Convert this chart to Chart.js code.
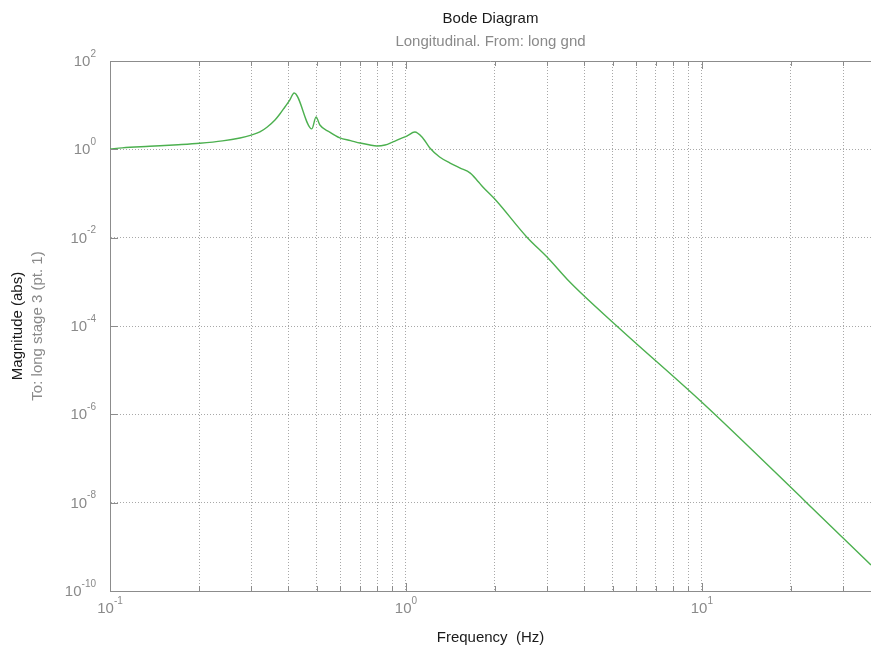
<!DOCTYPE html>
<html>
<head>
<meta charset="utf-8">
<script src="https://cdn.jsdelivr.net/npm/chart.js@4.4.1/dist/chart.umd.min.js"></script>
<style>
  html, body { margin: 0; padding: 0; background: #fff; }
  canvas { display: block; }
</style>
</head>
<body>
<canvas id="c" width="871" height="650"></canvas>
<script>
// ---- data ----
const freqHz = [0.1, 0.11, 0.136, 0.17, 0.201, 0.24, 0.275, 0.30, 0.321, 0.34, 0.361, 0.375, 0.39, 0.405, 0.419,
  0.481, 0.497, 0.512, 0.55, 0.598, 0.65, 0.70, 0.75, 0.798, 0.85, 0.904, 0.95, 1.007, 1.072, 1.14, 1.205,
  1.30, 1.41, 1.52, 1.65, 1.75, 1.82, 2.01, 2.56, 3.02, 3.58, 5.16, 10.07, 22.6, 37.3];
const magnitudeAbs = [1.02, 1.08, 1.17, 1.27, 1.37, 1.55, 1.81, 2.1, 2.47, 3.2, 4.6, 6.3, 9.1, 13, 18.9,
  2.9, 5.4, 3.56, 2.5, 1.81, 1.58, 1.39, 1.27, 1.19, 1.25, 1.47, 1.7, 2.0, 2.47, 1.81, 1.07,
  0.67, 0.49, 0.38, 0.29, 0.19, 0.14, 0.0713, 0.0104, 0.00347, 9.9e-4, 1e-4, 1.8e-6, 1e-8, 3.9e-10];
const xTickValues = [0.1,0.2,0.3,0.4,0.5,0.6,0.7,0.8,0.9,1,2,3,4,5,6,7,8,9,10,20,30];
const xTickLabels = [{v:0.1, exp:'-1'}, {v:1, exp:'0'}, {v:10, exp:'1'}];
const yTickValues = [1e-10,1e-8,1e-6,1e-4,1e-2,1,1e2];
const yTickExps = ['-10','-8','-6','-4','-2','0','2'];
const xMin = 0.1, xMax = 37.3, yMin = 1e-10, yMax = 1e2;

const titleText = 'Bode Diagram';
const subtitleText = 'Longitudinal. From: long gnd';
const yLabel1 = 'Magnitude (abs)';
const yLabel2 = 'To: long stage 3 (pt. 1)';
const xLabel = 'Frequency  (Hz)';

const FONT = "'Liberation Sans', Arial, Helvetica, sans-serif";
const GRAY_TEXT = '#8a8a8a';
const FRAME = '#8c8c8c';

const decorPlugin = {
  id: 'decor',
  afterDraw(chart) {
    const ctx = chart.ctx;
    const xs = chart.scales.x, ys = chart.scales.y;
    const a = chart.chartArea;
    ctx.save();
    // top frame line
    ctx.strokeStyle = FRAME; ctx.lineWidth = 1;
    ctx.beginPath(); ctx.moveTo(a.left, a.top + 0.5); ctx.lineTo(a.right, a.top + 0.5); ctx.stroke();
    // x tick marks (inward, bottom and top)
    xs.ticks.forEach(t => {
      const px = Math.round(xs.getPixelForValue(t.value)) + 0.5;
      const major = Math.abs(Math.log10(t.value) - Math.round(Math.log10(t.value))) < 1e-6;
      const len = major ? 8 : 5;
      ctx.beginPath();
      ctx.moveTo(px, a.bottom); ctx.lineTo(px, a.bottom - len);
      ctx.moveTo(px, a.top); ctx.lineTo(px, a.top + len);
      ctx.stroke();
    });
    // y tick marks
    ys.ticks.forEach(t => {
      const py = Math.round(ys.getPixelForValue(t.value)) + 0.5;
      ctx.beginPath(); ctx.moveTo(a.left, py); ctx.lineTo(a.left + 8, py); ctx.stroke();
    });
    // tick labels with superscripts
    ctx.fillStyle = GRAY_TEXT;
    ctx.textBaseline = 'middle';
    const base = '15px ' + FONT, sup = '10px ' + FONT;
    yTickValues.forEach((v, i) => {
      const py = ys.getPixelForValue(v);
      ctx.font = sup; const we = ctx.measureText(yTickExps[i]).width;
      ctx.font = base; const wb = ctx.measureText('10').width;
      const right = a.left - 14;
      ctx.textAlign = 'left';
      ctx.font = base; ctx.fillText('10', right - we - wb, py + 1);
      ctx.font = sup; ctx.fillText(yTickExps[i], right - we, py - 7);
    });
    xTickLabels.forEach(t => {
      const px = xs.getPixelForValue(t.v);
      ctx.font = sup; const we = ctx.measureText(t.exp).width;
      ctx.font = base; const wb = ctx.measureText('10').width;
      const left = px - (wb + we) / 2;
      ctx.textAlign = 'left';
      ctx.font = base; ctx.fillText('10', left, a.bottom + 18);
      ctx.font = sup; ctx.fillText(t.exp, left + wb, a.bottom + 10);
    });
    // titles
    const cx = (a.left + a.right) / 2;
    ctx.textAlign = 'center';
    ctx.font = '15px ' + FONT; ctx.fillStyle = '#1a1a1a';
    ctx.fillText(titleText, cx, 19);
    ctx.fillStyle = GRAY_TEXT;
    ctx.fillText(subtitleText, cx, 42);
    ctx.fillStyle = '#1a1a1a';
    ctx.fillText(xLabel, cx, 638);
    // y labels rotated
    const cy = (a.top + a.bottom) / 2;
    ctx.save(); ctx.translate(18, cy); ctx.rotate(-Math.PI / 2);
    ctx.fillStyle = '#1a1a1a'; ctx.fillText(yLabel1, 0, 0); ctx.restore();
    ctx.save(); ctx.translate(38, cy); ctx.rotate(-Math.PI / 2);
    ctx.fillStyle = GRAY_TEXT; ctx.fillText(yLabel2, 0, 0); ctx.restore();
    ctx.restore();
  }
};

new Chart(document.getElementById('c'), {
  type: 'line',
  data: {
    datasets: [{
      data: freqHz.map((f, i) => ({x: f, y: magnitudeAbs[i]})),
      borderColor: '#4cb04f',
      borderWidth: 1.4,
      pointRadius: 0,
      cubicInterpolationMode: 'monotone',
      fill: false
    }]
  },
  options: {
    responsive: false,
    devicePixelRatio: 1,
    animation: false,
    layout: { padding: { left: 110, top: 61, right: 0, bottom: 59 }, autoPadding: false },
    plugins: { legend: { display: false }, tooltip: { enabled: false }, title: { display: false } },
    scales: {
      x: {
        type: 'logarithmic', min: xMin, max: xMax,
        afterBuildTicks: s => { s.ticks = xTickValues.map(v => ({value: v})); },
        ticks: { display: false },
        grid: { color: '#a8a8a8', lineWidth: 1, drawTicks: false, tickLength: 0 },
        border: { display: true, color: FRAME, width: 1, dash: [1, 2] }
      },
      y: {
        type: 'logarithmic', min: yMin, max: yMax,
        afterBuildTicks: s => { s.ticks = yTickValues.map(v => ({value: v})); },
        ticks: { display: false },
        grid: { color: '#a8a8a8', lineWidth: 1, drawTicks: false, tickLength: 0 },
        border: { display: true, color: FRAME, width: 1, dash: [1, 2] }
      }
    }
  },
  plugins: [decorPlugin]
});
</script>
</body>
</html>
